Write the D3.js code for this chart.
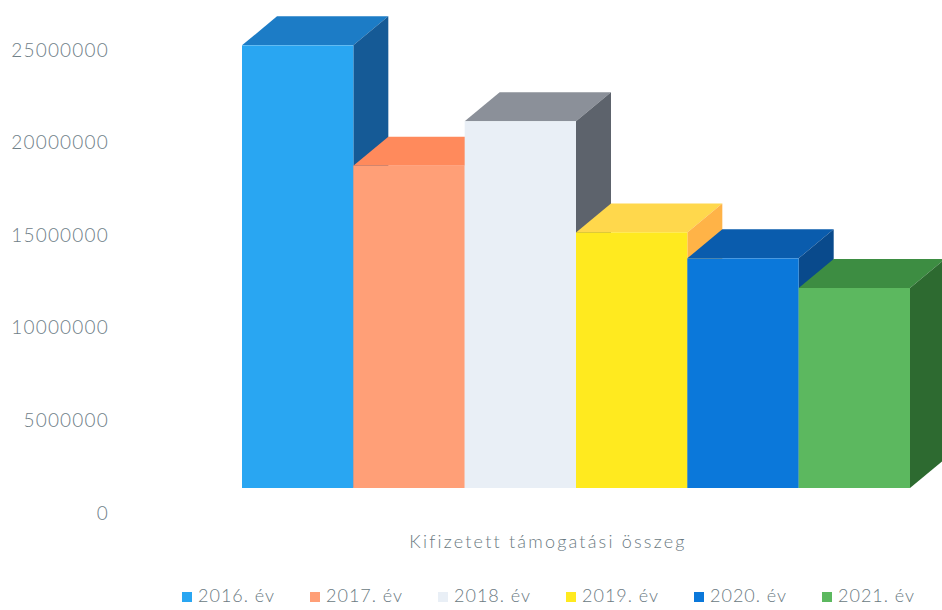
<!DOCTYPE html>
<html>
<head>
<meta charset="utf-8">
<script src="https://cdn.jsdelivr.net/npm/d3@7"></script>
<style>
  body { margin: 0; background: #fff; }
  svg { display: block; }
  .tick text { font-family: Lato, "Open Sans", sans-serif; font-weight: 300; fill: #6f8088; letter-spacing: 1.2px; }
</style>
</head>
<body>
<svg id="main" width="942" height="610"></svg>
<script>
// data
const years = ["2016. év", "2017. év", "2018. év", "2019. év", "2020. év", "2021. év"]
const values = [23900000, 17400000, 19800000, 13800000, 12400000, 10800000]
const yTicks = [0, 5000000, 10000000, 15000000, 20000000, 25000000]
const frontColors = ["#29a6f2", "#ff9f77", "#e9eff6", "#ffea1f", "#0b78da", "#5cb85f"]
const topColors = ["#1c7cc6", "#ff8a5c", "#8b9099", "#ffd84c", "#0a5cad", "#3d8d42"]
const sideColors = ["#155a96", "#e07a50", "#5d636c", "#ffb347", "#094a8c", "#2d6a30"]
const axisTitle = "Kifizetett támogatási összeg"

const svg = d3.select("#main")

// 3d depth of the columns
const dx = 35, dy = -29

let xScale = d3.scaleBand().domain(years).range([242, 910]).padding(0)
let yScale = d3.scaleLinear().domain([0, 25000000]).range([488, 25])

// value labels (sit a bit lower than the front floor, as in the original)
let y_axis = d3.axisLeft(yScale).tickValues(yTicks).tickSize(0).tickPadding(0).tickFormat(d3.format("d"))
svg.append("g")
    .attr("transform", `translate(109,25)`)
    .call(y_axis)
    .call(g => g.select(".domain").remove())
    .selectAll("text").style("font-size", "19px")

// columns, drawn left to right so the next one hides the previous side
let bars = svg.selectAll(".bar")
    .data(years)
    .enter()
    .append("g")
    .attr("class", "bar")

bars.append("polygon")
    .attr("points", (d, i) => {
        let x0 = xScale(d), x1 = x0 + xScale.bandwidth(), yt = yScale(values[i])
        return [[x0, yt], [x0 + dx, yt + dy], [x1 + dx, yt + dy], [x1, yt]].join(" ")
    })
    .style("fill", (d, i) => topColors[i])

bars.append("polygon")
    .attr("points", (d, i) => {
        let x1 = xScale(d) + xScale.bandwidth(), yt = yScale(values[i]), yb = yScale(0)
        return [[x1, yt], [x1 + dx, yt + dy], [x1 + dx, yb + dy], [x1, yb]].join(" ")
    })
    .style("fill", (d, i) => sideColors[i])

bars.append("rect")
    .attr("x", d => xScale(d))
    .attr("y", (d, i) => yScale(values[i]))
    .attr("width", xScale.bandwidth())
    .attr("height", (d, i) => yScale(0) - yScale(values[i]))
    .style("fill", (d, i) => frontColors[i])

// category title
svg.append("text")
    .attr("x", 548)
    .attr("y", 548)
    .attr("text-anchor", "middle")
    .style("font-family", "Lato, 'Open Sans', sans-serif")
    .style("font-weight", 300)
    .style("font-size", "18px")
    .style("letter-spacing", "2.2px")
    .style("fill", "#6b7a82")
    .text(axisTitle)

// legend
let legend = svg.selectAll(".legend")
    .data(years)
    .enter()
    .append("g")
    .attr("class", "legend")
    .attr("transform", (d, i) => `translate(${182 + i * 128},592)`)

legend.append("rect")
    .attr("width", 10)
    .attr("height", 10)
    .style("fill", (d, i) => frontColors[i])

legend.append("text")
    .attr("x", 16)
    .attr("y", 10)
    .style("font-family", "Lato, 'Open Sans', sans-serif")
    .style("font-weight", 300)
    .style("font-size", "18px")
    .style("letter-spacing", "1px")
    .style("fill", "#6b7a82")
    .text(d => d)
</script>
</body>
</html>
